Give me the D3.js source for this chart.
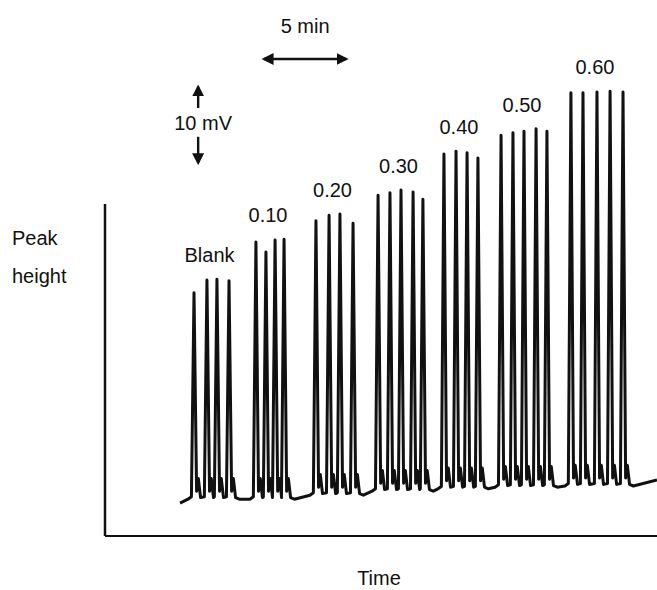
<!DOCTYPE html>
<html>
<head>
<meta charset="utf-8">
<script src="https://cdn.jsdelivr.net/npm/d3@7"></script>
<style>
  body { margin: 0; background: #fff; }
  text { font-family: "Liberation Sans", Arial, sans-serif; fill: #111; }
</style>
</head>
<body>
<script>
// sample groups (concentration labels)
var groups = ['Blank', '0.10', '0.20', '0.30', '0.40', '0.50', '0.60'];
// peak times in min, one list per group
var peakTimes = [
    [5.16, 5.91, 6.49, 7.19],
    [8.75, 9.33, 9.86, 10.38],
    [12.23, 12.99, 13.62, 14.38],
    [15.83, 16.52, 17.16, 17.86, 18.43],
    [19.65, 20.35, 20.99, 21.62],
    [22.96, 23.65, 24.29, 24.99, 25.62],
    [27.01, 27.71, 28.52, 29.28, 30.03]
];
// peak signal in mV
var peakHeights = [
    [30.4, 32.0, 32.1, 31.9],
    [36.75, 35.5, 37.0, 37.1],
    [39.4, 40.1, 40.25, 39.1],
    [42.6, 42.9, 43.25, 43.0, 42.1],
    [47.75, 48.1, 47.9, 47.25],
    [50.1, 50.4, 50.6, 50.9, 50.6],
    [55.4, 55.4, 55.5, 55.6, 55.5]
];
// baseline signal under each group (mV)
var baselines = [4.6, 4.6, 5.1, 5.6, 5.9, 6.1, 6.25];
var traceStart = [4.35, 4.1];
var traceEnd = [32, 7.0];

var width = 657, height = 590;

var svg = d3.select('body').append('svg')
    .attr('width', width)
    .attr('height', height);

var x = d3.scaleLinear().domain([0, 32]).range([105, 657]);
var y = d3.scaleLinear().domain([0, 41.5]).range([536, 204]);

// axes (no ticks)
svg.append('line')
    .attr('x1', x(0)).attr('x2', x(0))
    .attr('y1', y(0)).attr('y2', y(41.5))
    .attr('stroke', '#111').attr('stroke-width', 2.5);
svg.append('line')
    .attr('x1', x(0)).attr('x2', x(32))
    .attr('y1', y(0)).attr('y2', y(0))
    .attr('stroke', '#111').attr('stroke-width', 2);

// build trace points from peaks
var trace = [traceStart];
groups.forEach(function (g, i) {
    var b = baselines[i], ts = peakTimes[i];
    trace.push([ts[0] - 0.35, b]);
    ts.forEach(function (t, j) {
        trace.push([t - 0.15, b + 0.3]);
        trace.push([t, peakHeights[i][j]]);
        trace.push([t + 0.15, b + 1.0]);
        trace.push([t + 0.25, b + 2.6]);
        trace.push([t + 0.38, b + 0.2]);
    });
    trace.push([ts[ts.length - 1] + 0.6, b]);
});
trace.push(traceEnd);

var line = d3.line()
    .x(function (d) { return x(d[0]); })
    .y(function (d) { return y(d[1]); });

svg.append('path')
    .datum(trace)
    .attr('d', line)
    .attr('fill', 'none')
    .attr('stroke', '#111')
    .attr('stroke-width', 3)
    .attr('stroke-linejoin', 'round');

// group labels
svg.selectAll('.glabel')
    .data(groups)
    .enter().append('text')
    .attr('class', 'glabel')
    .attr('x', function (d, i) { return x(d3.mean(d3.extent(peakTimes[i]))) - 2; })
    .attr('y', function (d, i) { return y(d3.max(peakHeights[i])) - 17; })
    .attr('text-anchor', 'middle')
    .attr('font-size', 20)
    .text(function (d) { return d; });

// axis titles
svg.append('text').attr('x', 12).attr('y', 245).attr('font-size', 20).text('Peak');
svg.append('text').attr('x', 12).attr('y', 283).attr('font-size', 20).text('height');
svg.append('text').attr('x', 379).attr('y', 585).attr('text-anchor', 'middle')
    .attr('font-size', 20).text('Time');

// scale bars
var defs = svg.append('defs');
defs.append('marker')
    .attr('id', 'head')
    .attr('viewBox', '0 0 10 10')
    .attr('refX', 8).attr('refY', 5)
    .attr('markerWidth', 5).attr('markerHeight', 5)
    .attr('orient', 'auto-start-reverse')
    .append('path').attr('d', 'M0,0L10,5L0,10z').attr('fill', '#111');

var barStart = 9.1;
svg.append('line')
    .attr('x1', x(barStart) + 2).attr('x2', x(barStart + 5) - 2)
    .attr('y1', 59).attr('y2', 59)
    .attr('stroke', '#111').attr('stroke-width', 2.4)
    .attr('marker-start', 'url(#head)')
    .attr('marker-end', 'url(#head)');
svg.append('text').attr('x', x(barStart + 2.5)).attr('y', 33)
    .attr('text-anchor', 'middle').attr('font-size', 20).text('5 min');

var mvAt = 5.4, mvTop = 56.4;
svg.append('line')
    .attr('x1', x(mvAt)).attr('x2', x(mvAt))
    .attr('y1', y(mvTop - 2.9)).attr('y2', y(mvTop) + 2)
    .attr('stroke', '#111').attr('stroke-width', 2.4)
    .attr('marker-end', 'url(#head)');
svg.append('line')
    .attr('x1', x(mvAt)).attr('x2', x(mvAt))
    .attr('y1', y(mvTop - 6.5)).attr('y2', y(mvTop - 10) - 2)
    .attr('stroke', '#111').attr('stroke-width', 2.4)
    .attr('marker-end', 'url(#head)');
svg.append('text').attr('x', x(mvAt) + 5).attr('y', 130)
    .attr('text-anchor', 'middle').attr('font-size', 20).text('10 mV');
</script>
</body>
</html>
